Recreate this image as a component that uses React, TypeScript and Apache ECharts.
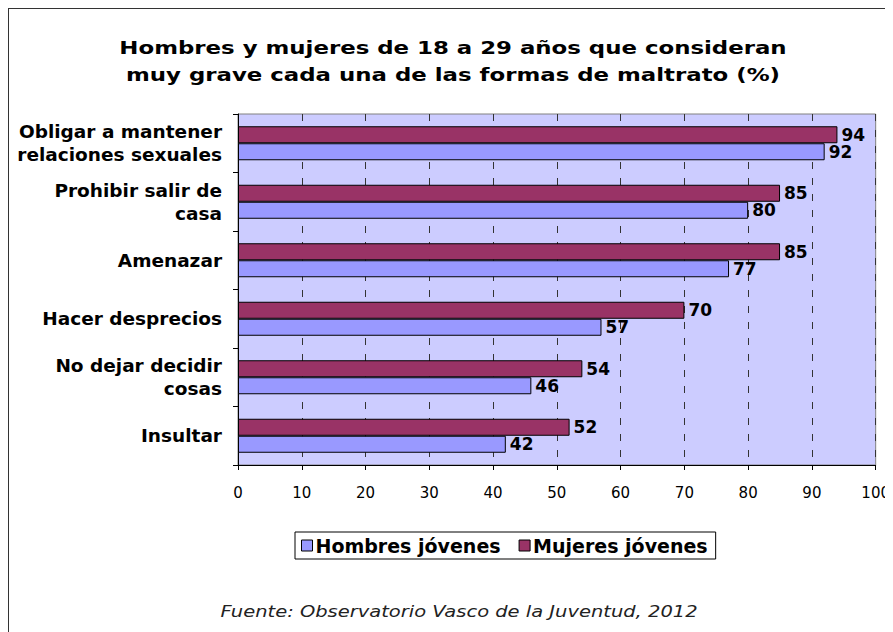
import React, { useEffect, useRef } from "react";
import * as echarts from "echarts";

const categories = [
  "Obligar a mantener\nrelaciones sexuales",
  "Prohibir salir de\ncasa",
  "Amenazar",
  "Hacer desprecios",
  "No dejar decidir\ncosas",
  "Insultar",
];
const hombres = [92, 80, 77, 57, 46, 42];
const mujeres = [94, 85, 85, 70, 54, 52];
const xTicks = { min: 0, max: 100, interval: 10 };
const titleText = "Hombres y mujeres de 18 a 29 años que consideran\nmuy grave cada una de las formas de maltrato (%)";
const sourceText = "Fuente: Observatorio Vasco de la Juventud, 2012";

const FONT = "'DejaVu Sans', Verdana, sans-serif";

export default function App() {
  const ref = useRef<HTMLDivElement>(null);
  useEffect(() => {
    if (!ref.current) return;
    const chart = echarts.init(ref.current, undefined, { renderer: "svg" });
    const cats = [...categories].reverse();
    const h = [...hombres].reverse();
    const m = [...mujeres].reverse();
    const valueLabel = {
      show: true,
      position: "right",
      distance: 4,
      fontFamily: FONT,
      fontSize: 17,
      fontWeight: "bold",
      color: "#000",
    };
    chart.setOption({
      animation: false,
      backgroundColor: "#ffffff",
      legend: {
        left: 286,
        top: 523,
        data: ["Hombres jóvenes", "Mujeres jóvenes"],
        icon: "rect",
        itemWidth: 11,
        itemHeight: 11,
        itemGap: 18,
        padding: [4, 8, 4, 6],
        borderColor: "#000",
        borderWidth: 1,
        itemStyle: { borderColor: "#000", borderWidth: 1 },
        textStyle: {
          fontFamily: FONT,
          fontSize: 19,
          fontWeight: "bold",
          color: "#000",
          padding: [0, 0, 0, -2],
        },
      },
      grid: {
        left: 229,
        top: 105,
        right: 13,
        bottom: 167,
        show: true,
        backgroundColor: "#CCCCFF",
        borderColor: "#808080",
        borderWidth: 1,
      },
      xAxis: {
        type: "value",
        min: xTicks.min,
        max: xTicks.max,
        interval: xTicks.interval,
        axisLine: { show: true, lineStyle: { color: "#000", width: 1 } },
        axisTick: { show: true, length: 5, lineStyle: { color: "#000" } },
        axisLabel: {
          fontFamily: FONT,
          fontSize: 15,
          color: "#000",
          margin: 20,
        },
        splitLine: {
          show: true,
          lineStyle: { color: "#333", type: [7, 9], width: 1 },
        },
      },
      yAxis: {
        type: "category",
        data: cats,
        axisLine: { show: true, lineStyle: { color: "#000", width: 1 } },
        axisTick: { show: true, length: 5, lineStyle: { color: "#000" } },
        axisLabel: {
          fontFamily: FONT,
          fontSize: 18.5,
          fontWeight: "bold",
          color: "#000",
          align: "right",
          lineHeight: 23,
          margin: 16,
        },
      },
      graphic: [
        {
          type: "text",
          x: 444,
          y: 25,
          scaleX: 1.27,
          style: {
            text: titleText,
            fontFamily: FONT,
            fontSize: 18,
            fontWeight: "bold",
            fill: "#000",
            align: "center",
            verticalAlign: "top",
            lineHeight: 27,
          },
        },
        {
          type: "text",
          x: 450,
          y: 603,
          scaleX: 1.3,
          style: {
            text: sourceText,
            fontFamily: FONT,
            fontSize: 15,
            fontStyle: "italic",
            fill: "#222",
            align: "center",
            verticalAlign: "middle",
          },
        },
      ],
      series: [
        {
          name: "Mujeres jóvenes",
          type: "bar",
          data: m,
          barWidth: 17,
          barGap: "0%",
          itemStyle: { color: "#993366", borderColor: "#000", borderWidth: 1 },
          label: valueLabel,
        },
        {
          name: "Hombres jóvenes",
          type: "bar",
          data: h,
          barWidth: 17,
          barGap: "0%",
          itemStyle: { color: "#9999FF", borderColor: "#000", borderWidth: 1 },
          label: valueLabel,
        },
      ],
    });
    return () => chart.dispose();
  }, []);
  return (
    <div
      ref={ref}
      style={{
        width: 884,
        height: 623,
        borderLeft: "1px solid #333",
        borderTop: "1px solid #333",
      }}
    />
  );
}
